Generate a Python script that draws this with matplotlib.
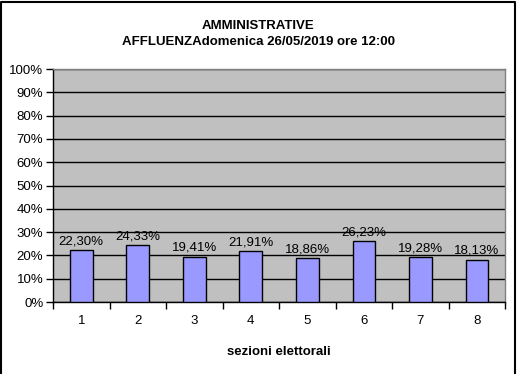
import matplotlib
matplotlib.use("Agg")
import matplotlib.pyplot as plt
from matplotlib.lines import Line2D
from matplotlib.ticker import FixedLocator

plt.rcParams['font.family'] = ['Liberation Sans', 'DejaVu Sans']

categories = ['1', '2', '3', '4', '5', '6', '7', '8']
values = [22.30, 24.33, 19.41, 21.91, 18.86, 26.23, 19.28, 18.13]
labels = ['22,30%', '24,33%', '19,41%', '21,91%', '18,86%', '26,23%', '19,28%', '18,13%']
yticks = [0, 10, 20, 30, 40, 50, 60, 70, 80, 90, 100]
ytick_labels = [f'{v}%' for v in yticks]

W, H = 517, 374
fig = plt.figure(figsize=(W / 100, H / 100), dpi=100)
ax = fig.add_axes([0.1025, 0.1925, 0.8745, 0.623])
ax.set_facecolor('#C0C0C0')

x = list(range(1, len(categories) + 1))
ax.bar(x, values, width=0.4, color='#9999FF', edgecolor='black', linewidth=1, zorder=3)
for xi, v, lab in zip(x, values, labels):
    ax.text(xi, v + 1.2, lab, ha='center', va='bottom', fontsize=9.5, zorder=4)

ax.set_xlim(0.5, len(categories) + 0.5)
ax.set_ylim(0, 100)
ax.set_yticks(yticks)
ax.set_yticklabels(ytick_labels, fontsize=9.5)
ax.yaxis.grid(True, color='black', linewidth=1, zorder=1)
ax.set_axisbelow(True)
ax.set_xticks(x)
ax.set_xticklabels(categories, fontsize=9.5)
ax.tick_params(axis='x', which='major', length=0, pad=9)
ax.xaxis.set_minor_locator(FixedLocator([i + 0.5 for i in range(0, len(categories) + 1)]))
ax.tick_params(axis='x', which='minor', length=5, width=1, direction='out')
ax.tick_params(axis='y', length=5, width=1, direction='out', pad=2)
for s in ['top', 'right']:
    ax.spines[s].set_color('#808080')
for s in ['left', 'bottom']:
    ax.spines[s].set_color('black')
for s in ax.spines.values():
    s.set_linewidth(1)

ax.set_xlabel('sezioni elettorali', fontsize=9.5, fontweight='bold', labelpad=14)
fig.text(0.5, 1 - 26 / H, 'AMMINISTRATIVE', ha='center', va='center', fontsize=9.5, fontweight='bold')
fig.text(0.5, 1 - 42 / H, 'AFFLUENZAdomenica 26/05/2019 ore 12:00', ha='center', va='center', fontsize=9.5, fontweight='bold')

# outer frame: left, top, right (bottom cut off)
xl, xr, yt = 1 / W, 515 / W, 1 - 1.5 / H
fig.lines.append(Line2D([xl, xl, xr, xr], [0, yt, yt, 0], transform=fig.transFigure,
                        color='black', linewidth=1.5))

fig.savefig('out.png', dpi=100)
